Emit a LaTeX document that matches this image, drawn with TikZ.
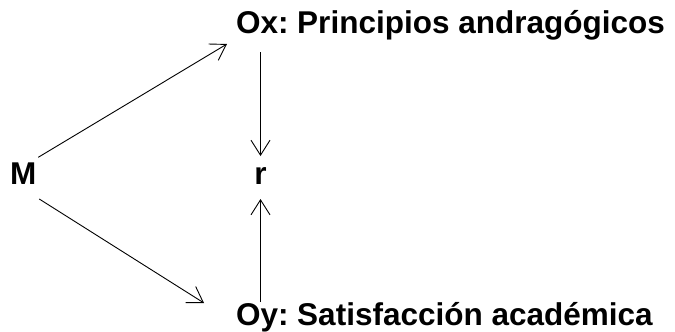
\documentclass[tikz,border=0pt]{standalone}
\usepackage{fontspec}
\setmainfont{Liberation Sans}
\usetikzlibrary{arrows.meta,calc}

\tikzset{
  lbl/.style={inner sep=0pt,outer sep=0pt,font=\fontsize{31.5}{38}\selectfont\bfseries\frenchspacing},
  arr/.style={line width=0.9pt,-{Straight Barb[length=15pt,width=19pt,line width=0.9pt]}}
}

\begin{document}
\begin{tikzpicture}[x=1pt,y=-1pt]
  \useasboundingbox (0,0) rectangle (675,332);
% Variables
  \node[lbl,anchor=base west] (M) at (10,184) {M};
  \node[lbl,anchor=base] (r) at (260.5,184) {r};
  \node[lbl,anchor=base west] (Ox) at (236,33) {Ox: Principios andragógicos};
  \node[lbl,anchor=base west] (Oy) at (236,325) {Oy: Satisfacción académica};
% Sample to observations
  \draw[arr] ($(M.north east)+(2,-5)$) -- ($(Ox.base west)+(-9,11)$);
  \draw[arr] ($(M.south east)+(3,15)$) -- ($(Oy.base west)+(-32,-22)$);
% Observations to relation
  \draw[arr] ($(Ox.base west -| r.north)+(0,19)$) -- ($(r.north)+(0,-11)$);
  \draw[arr] ($(Oy.base west -| r.south)+(0,-23)$) -- ($(r.south)+(0,15)$);
\end{tikzpicture}
\end{document}
